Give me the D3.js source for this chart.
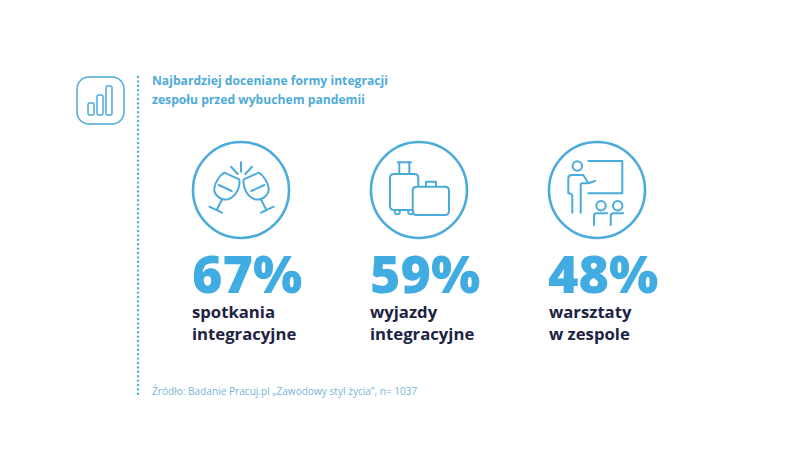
<!DOCTYPE html>
<html lang="pl">
<head>
<meta charset="utf-8">
<title>Najbardziej doceniane formy integracji</title>
<script src="https://cdnjs.cloudflare.com/ajax/libs/d3/7.8.5/d3.min.js"></script>
<style>
  body { margin: 0; background: #fff; }
  svg { display: block; font-family: "Open Sans", sans-serif; }
  .ic { fill: none; stroke: #4bacdc; stroke-width: 2; stroke-linecap: round; stroke-linejoin: round; }
</style>
</head>
<body>
<script>
var titleLines = ["Najbardziej doceniane formy integracji", "zespołu przed wybuchem pandemii"];
var categories = ["spotkania", "wyjazdy", "warsztaty"];
var categoryLines = [["spotkania", "integracyjne"], ["wyjazdy", "integracyjne"], ["warsztaty", "w zespole"]];
var values = [67, 59, 48];
var source = "Źródło: Badanie Pracuj.pl „Zawodowy styl życia”, n= 1037";

var w = 800, h = 472;

var svg = d3.select("body").append("svg").attr("width", w).attr("height", h);

// columns
var x = d3.scalePoint().domain(categories).range([192, 548]);

// header icon
var head = svg.append("g").attr("class", "ic");
head.append("rect").attr("x", 77).attr("y", 77).attr("width", 47).attr("height", 47).attr("rx", 12).style("stroke-width", 1.5);
[[88, 103, 12], [97, 95, 20], [106, 86, 29]].forEach(function(b) {
  head.append("rect").attr("x", b[0]).attr("y", b[1]).attr("width", 6).attr("height", b[2]).attr("rx", 1.5).style("stroke-width", 1.5);
});

// dotted line
svg.append("line")
  .attr("x1", 138).attr("x2", 138).attr("y1", 77).attr("y2", 396)
  .attr("stroke", "#4bacdc").attr("stroke-width", 2.4)
  .attr("stroke-linecap", "round").attr("stroke-dasharray", "0 4.4");

// title
svg.selectAll(".title").data(titleLines).enter().append("text")
  .attr("class", "title")
  .attr("x", 152)
  .attr("y", function(d, i) { return 85 + i * 18.5; })
  .attr("font-size", 12.15).attr("font-weight", 700).attr("fill", "#4fabd8")
  .text(function(d) { return d; });

// icons, drawn around the circle centre
var glass = "M-16.7,-17.3L-1.7,-10.7C-0.5,-3 -5,7 -13,9.3C-22,11 -27.5,3 -26.7,-1.7C-26,-8 -21,-15 -16.7,-17.3Z" +
  "M-22.3,-5L-9.3,1M-19,9.5L-24.3,20M-31.7,16.7L-19,22.7";
var sparks = "M0,-27.7V-18.3M-10,-23.3L-3.3,-16M11,-23.3L4.3,-16";

var luggage = "M-6.3,20H-25C-27.5,20 -29,18.5 -29,16V-12C-29,-14.5 -27.5,-16 -25,-16H-4.7C-2.2,-16 -0.7,-14.5 -0.7,-12V-3.3" +
  "M-19.7,-16V-27.7M-9.7,-16V-27.7M-21.3,-27.7H-8" +
  "M-2.3,-3.3H26C28.5,-3.3 30,-1.8 30,0.7V21C30,23.5 28.5,25 26,25H-2.3C-4.8,25 -6.3,23.5 -6.3,21V0.7C-6.3,-1.8 -4.8,-3.3 -2.3,-3.3Z" +
  "M7,-3.3V-8.3H17V-3.3" +
  "M-24.2,21A2.6,2.6 0 1 0 -19.2,21M-10.8,21A2.6,2.6 0 1 0 -5.8,21";

var teacher = "M-8.7,-29H25.3V3.3H-8.7" +
  "M-24.7,22.7V6C-24.7,4 -26,3.3 -28.7,3.3V-11.5C-28.7,-13.5 -27.3,-15 -25.3,-15H-13.7L-8.7,-6.7L-2,-9" +
  "M-8.7,-6.7H-14.5C-15.7,-6.7 -16.3,-6 -16.3,-5V22.7" +
  "M-3,35V26C-3,24.3 -2,23.3 -0.5,23.3H10.3M13.7,35V26C13.7,24.3 14.7,23.3 16.2,23.3H26.3";

var iconPaths = [glass, luggage, teacher];

var cols = svg.selectAll(".col").data(categories).enter().append("g")
  .attr("class", "col")
  .attr("transform", function(d) { return "translate(" + x(d) + ",0)"; });

var icons = cols.append("g").attr("class", "ic").attr("transform", "translate(49,190)");
icons.append("circle").attr("r", 48).style("stroke-width", 2.6);
icons.append("path").attr("d", function(d, i) { return iconPaths[i]; });
icons.each(function(d, i) {
  var g = d3.select(this);
  if (i == 0) {
    g.append("path").attr("d", glass).attr("transform", "translate(1,0) scale(-1,1)");
    g.append("path").attr("d", sparks);
  }
  if (i == 2) {
    g.append("circle").attr("cx", -19.7).attr("cy", -24).attr("r", 4.7);
    g.append("circle").attr("cx", 4).attr("cy", 15.7).attr("r", 4.7);
    g.append("circle").attr("cx", 20.7).attr("cy", 15.7).attr("r", 4.7);
  }
});

// percentages
cols.append("text")
  .attr("x", 0).attr("y", 293)
  .attr("font-size", 52).attr("font-weight", 800).attr("fill", "#40ace2")
  .text(function(d, i) { return values[i] + "%"; });

// labels
cols.each(function(d, i) {
  d3.select(this).selectAll(".lab").data(categoryLines[i]).enter().append("text")
    .attr("class", "lab")
    .attr("x", i == 2 ? 1 : 0)
    .attr("y", function(t, j) { return 318 + j * 22; })
    .attr("font-size", 16.7).attr("font-weight", 700).attr("fill", "#1d2342")
    .text(function(t) { return t; });
});

// source
svg.append("text")
  .attr("x", 152).attr("y", 395)
  .attr("font-size", 10.1).attr("fill", "#76b6d8")
  .text(source);
</script>
</body>
</html>
